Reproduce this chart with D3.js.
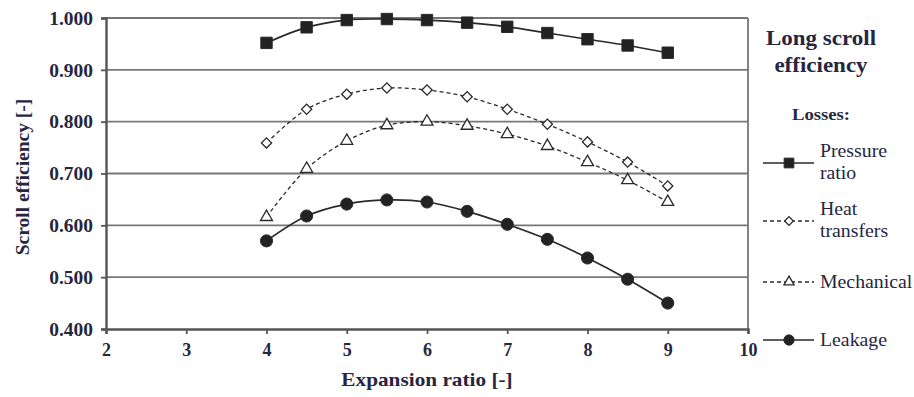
<!DOCTYPE html>
<html>
<head>
<meta charset="utf-8">
<script src="https://cdn.jsdelivr.net/npm/d3@7"></script>
<style>
  body { margin: 0; background: #fff; }
  text { font-family: "Liberation Serif", "DejaVu Serif", serif; fill: #26263f; }
</style>
</head>
<body>
<div id="chart"></div>
<script>
// expansion ratios
var ratios = [4, 4.5, 5, 5.5, 6, 6.5, 7, 7.5, 8, 8.5, 9];

// efficiency
var pressureRatio = [0.952, 0.982, 0.996, 0.998, 0.996, 0.991, 0.983, 0.971, 0.959, 0.947, 0.933];
var heatTransfers = [0.759, 0.824, 0.853, 0.865, 0.861, 0.848, 0.824, 0.795, 0.761, 0.722, 0.676];
var mechanical    = [0.616, 0.709, 0.763, 0.793, 0.800, 0.792, 0.776, 0.753, 0.722, 0.687, 0.645];
var leakage       = [0.570, 0.618, 0.641, 0.649, 0.645, 0.627, 0.602, 0.573, 0.537, 0.496, 0.450];

var seriesNames = ["Pressure ratio", "Heat transfers", "Mechanical", "Leakage"];
var xTicks = [2, 3, 4, 5, 6, 7, 8, 9, 10];
var yTicks = [0.4, 0.5, 0.6, 0.7, 0.8, 0.9, 1.0];

var W = 914, H = 397;
var margin = {top: 18, right: 166, bottom: 68, left: 106};

var svg = d3.select("#chart").append("svg")
	.attr("width", W)
	.attr("height", H);

var x = d3.scaleLinear().domain([2, 10]).range([margin.left, W - margin.right]);
var y = d3.scaleLinear().domain([0.4, 1.0]).range([H - margin.bottom, margin.top]);

// text helper, glyphs of the original are a bit wider than Liberation Serif
function addText(g, tx, ty, str, size, weight, anchor, sx) {
	return g.append("text")
		.attr("transform", "translate(" + tx + "," + ty + ") scale(" + sx + ",1)")
		.attr("text-anchor", anchor)
		.style("font-size", size + "px")
		.style("font-weight", weight)
		.text(str);
}

// gridlines
svg.append("g").selectAll("line")
	.data(yTicks.slice(1))
	.enter().append("line")
	.attr("x1", x(2)).attr("x2", x(10))
	.attr("y1", function(d) { return y(d); })
	.attr("y2", function(d) { return y(d); })
	.style("stroke", "#777")
	.style("stroke-width", 1.8);

// right border
svg.append("line")
	.attr("x1", x(10)).attr("x2", x(10))
	.attr("y1", y(1.0)).attr("y2", y(0.4))
	.style("stroke", "#777")
	.style("stroke-width", 1.8);

// axes
var yAxis = svg.append("g")
	.attr("transform", "translate(" + x(2) + ",0)")
	.call(d3.axisLeft(y).tickValues(yTicks).tickSize(5).tickFormat(d3.format(".3f")));
var xAxis = svg.append("g")
	.attr("transform", "translate(0," + y(0.4) + ")")
	.call(d3.axisBottom(x).tickValues(xTicks).tickSize(5).tickFormat(d3.format("d")));

[xAxis, yAxis].forEach(function(a) {
	a.select(".domain").style("stroke", "#555").style("stroke-width", 2.4);
	a.selectAll(".tick line").style("stroke", "#555").style("stroke-width", 1.8);
	a.selectAll("text")
		.style("font-family", "Liberation Serif, serif")
		.style("font-size", "18px")
		.style("font-weight", "bold")
		.style("fill", "#26263f");
});
yAxis.selectAll("text").attr("x", null).attr("dy", "0.35em")
	.attr("transform", "translate(-13,0) scale(1.08,1)");
xAxis.selectAll("text").attr("y", 14);

// axis titles
addText(svg, (x(2) + x(10)) / 2, 386, "Expansion ratio [-]", 18.5, "bold", "middle", 1.15);

svg.append("text")
	.attr("transform", "translate(29,177) rotate(-90)")
	.attr("text-anchor", "middle")
	.style("font-size", "19.5px")
	.style("font-weight", "bold")
	.text("Scroll efficiency [-]");

// series
var allSeries = [pressureRatio, heatTransfers, mechanical, leakage];
var dashes = [null, "4,3", "4,3", null];
var widths = [1.7, 1.3, 1.3, 1.7];

var line = d3.line()
	.x(function(d, i) { return x(ratios[i]); })
	.y(function(d) { return y(d); })
	.curve(d3.curveCatmullRom.alpha(0.5));

allSeries.forEach(function(s, k) {
	svg.append("path")
		.datum(s)
		.attr("d", line)
		.style("fill", "none")
		.style("stroke", "#2a2a2a")
		.style("stroke-width", widths[k])
		.style("stroke-dasharray", dashes[k]);
});

var symbols = [d3.symbolSquare, d3.symbolSquare, d3.symbolTriangle, d3.symbolCircle];
var symSize = [130, 52, 62, 115];
var filled = [true, false, false, true];

function drawMarker(g, k, cx, cy, sc) {
	g.append("path")
		.attr("d", d3.symbol().type(symbols[k]).size(symSize[k] * sc * sc))
		.attr("transform", "translate(" + cx + "," + cy + ")" + (k === 1 ? " rotate(45)" : ""))
		.style("fill", filled[k] ? "#222" : "#fff")
		.style("stroke", "#2a2a2a")
		.style("stroke-width", filled[k] ? 1 : 1.3);
}

allSeries.forEach(function(s, k) {
	var g = svg.append("g");
	s.forEach(function(v, i) {
		drawMarker(g, k, x(ratios[i]), y(v), 1);
	});
});

// legend
addText(svg, 821, 45, "Long scroll", 20, "bold", "middle", 1.15);
addText(svg, 821, 72, "efficiency", 20, "bold", "middle", 1.15);
addText(svg, 821, 120, "Losses:", 17, "bold", "middle", 1.1);

var legendY = [163, 221, 282, 340];
var legendLabels = [["Pressure", "ratio"], ["Heat", "transfers"], ["Mechanical"], ["Leakage"]];

seriesNames.forEach(function(name, k) {
	var g = svg.append("g");
	g.append("line")
		.attr("x1", 763).attr("x2", 814)
		.attr("y1", legendY[k]).attr("y2", legendY[k])
		.style("stroke", "#2a2a2a")
		.style("stroke-width", widths[k])
		.style("stroke-dasharray", dashes[k]);
	drawMarker(g, k, 789, legendY[k], 0.85);
	var lines = legendLabels[k];
	lines.forEach(function(t, j) {
		var ty = lines.length === 1 ? legendY[k] + 6 : legendY[k] - 6 + j * 22;
		addText(g, 820, ty, t, 18, "normal", "start", 1.1);
	});
});
</script>
</body>
</html>
